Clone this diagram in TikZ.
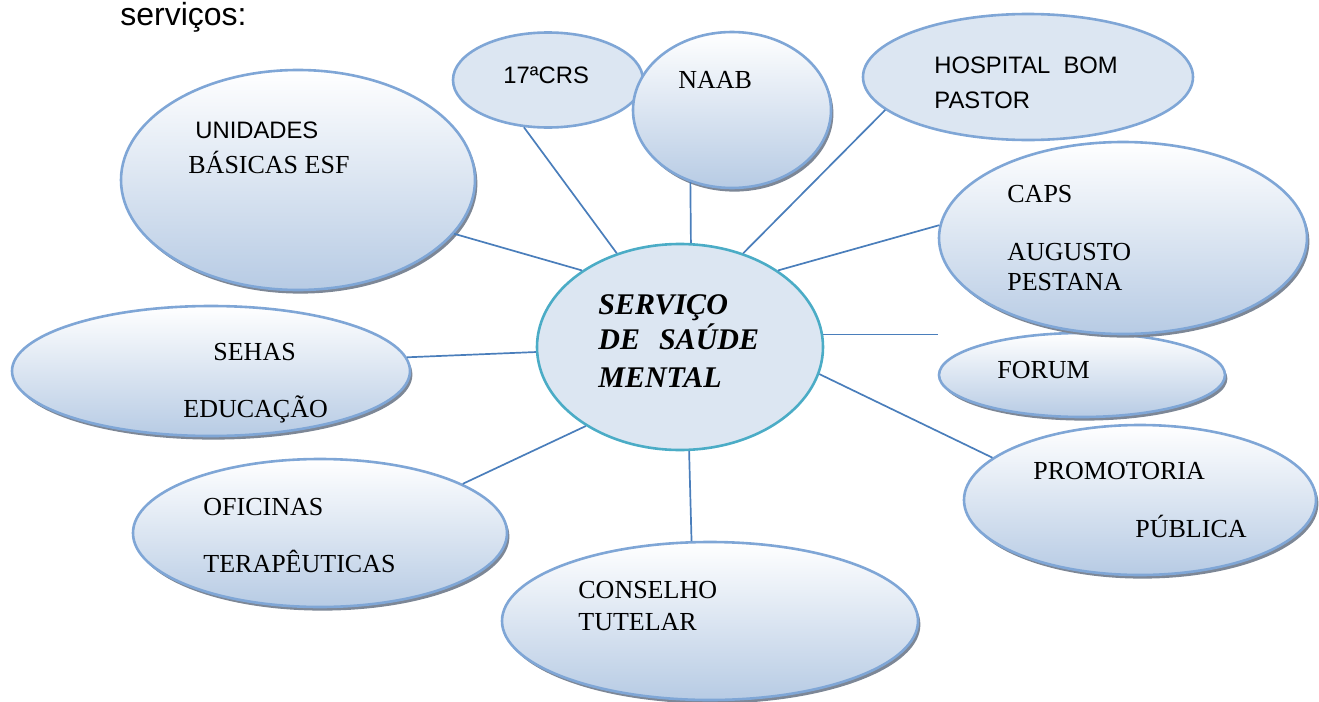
\documentclass[tikz,border=0pt]{standalone}
\usepackage{fontspec}
\setmainfont{Liberation Serif}
\newfontfamily\arialfont{Liberation Sans}
\usepackage{xcolor}
\usepackage{tikz}
\usetikzlibrary{shapes.geometric,shadows}
\definecolor{linkblue}{RGB}{74,126,187}
\definecolor{rimblue}{RGB}{127,166,214}
\definecolor{flatblue}{RGB}{220,230,242}
\definecolor{deepblue}{RGB}{183,203,228}
\definecolor{rimteal}{RGB}{75,172,198}
\definecolor{shadowgray}{RGB}{125,135,150}
\tikzset{
	bubble/.style={ellipse, draw=rimblue, line width=1.3pt, inner sep=0pt,
		top color=white, bottom color=deepblue,
		drop shadow={shadow xshift=1.2pt, shadow yshift=-1.8pt, fill=shadowgray, opacity=1}},
	flatbubble/.style={ellipse, draw=rimblue, line width=1.3pt, inner sep=0pt, fill=flatblue},
	hub/.style={ellipse, draw=rimteal, line width=1.3pt, inner sep=0pt, fill=flatblue},
	tag/.style={anchor=base west, inner sep=0pt, font=\fontsize{13}{15}\selectfont},
	sanstag/.style={tag, font=\arialfont\fontsize{11.9}{14}\selectfont},
	link/.style={draw=linkblue, line width=0.85pt}
}
\newcommand{\tagtext}[1]{\parbox[t]{8cm}{\raggedright #1}}

\begin{document}
\begin{tikzpicture}[x=0.5pt, y=-0.5pt]
	\useasboundingbox (0,0) rectangle (1319,702);
	
	%% -- heading
	\node[tag, font=\arialfont\fontsize{16}{19}\selectfont] (title) at (120,25) {serviços:};
	
	%% -- outer bubbles
	\node[flatbubble, minimum width=95pt, minimum height=47.5pt] (crs) at (548,80) {};
	\node[bubble, minimum width=99pt, minimum height=78pt] (naab) at (732,110) {};
	\node[flatbubble, minimum width=165pt, minimum height=63pt] (hosp) at (1028,77) {};
	\node[bubble, minimum width=177pt, minimum height=110pt] (unid) at (298,180) {};
	\node[bubble, minimum width=143pt, minimum height=42pt] (forum) at (1082,375) {};
	\node[bubble, minimum width=184pt, minimum height=96pt] (caps) at (1123,238) {};
	\node[bubble, minimum width=199pt, minimum height=65pt] (sehas) at (211,371) {};
	\node[bubble, minimum width=176pt, minimum height=75pt] (prom) at (1140,500) {};
	\node[bubble, minimum width=187pt, minimum height=74pt] (ofic) at (320,533) {};
	\node[bubble, minimum width=208pt, minimum height=79pt] (cons) at (710,621) {};
	
	%% -- central bubble
	\node[hub, minimum width=143pt, minimum height=103pt] (serv) at (680,347) {};
	
	%% -- spokes
	\draw[link] (unid.-19) -- (serv.142);
	\draw[link] (crs.-117) -- (serv.124);
	\draw[link] (naab.-120) -- (serv.84);
	\draw[link] (hosp.-167) -- (serv.56);
	\draw[link] (caps.176) -- (serv.38);
	\draw[link] (serv.5) -- (serv.5 -| forum.west);
	\draw[link] (prom.164) -- (serv.-11);
	\draw[link] (cons.103) -- (serv.-85);
	\draw[link] (ofic.19) -- (serv.-140);
	\draw[link] (sehas.4) -- (serv.182);
	
	%% -- texts
	\node[tag, font=\bfseries\itshape\fontsize{15}{18}\selectfont] (serv-t) at (598,314)
	{\tagtext{SERVIÇO\\[-0.5pt]DE\hspace{9.5pt}SAÚDE\\[1pt]MENTAL}};
	\node[tag] (unid-t) at (188,138)
	{\tagtext{\hspace*{3.5pt}{\arialfont\fontsize{11.9}{14}\selectfont UNIDADES}\\[2.5pt]BÁSICAS ESF}};
	\node[sanstag] (crs-t) at (503,83) {17ªCRS};
	\node[tag] (naab-t) at (678,88) {NAAB};
	\node[sanstag] (hosp-t) at (934,73) {\tagtext{HOSPITAL\ \ BOM\\[3.5pt]PASTOR}};
	\node[tag] (caps-t) at (1007,202) {\tagtext{CAPS\\[14pt]AUGUSTO\\PESTANA}};
	\node[tag] (forum-t) at (997,378) {FORUM};
	\node[tag] (prom-t) at (1033,479) {\tagtext{PROMOTORIA\\[14pt]\hspace*{51pt}PÚBLICA}};
	\node[tag] (cons-t) at (578,598) {\tagtext{CONSELHO\\[1pt]TUTELAR}};
	\node[tag] (ofic-t) at (203,515) {\tagtext{OFICINAS\\[13.5pt]TERAPÊUTICAS}};
	\node[tag] (sehas-t) at (183,360) {\tagtext{\hspace*{15pt}SEHAS\\[13.5pt]EDUCAÇÃO}};
	
\end{tikzpicture}
\end{document}
